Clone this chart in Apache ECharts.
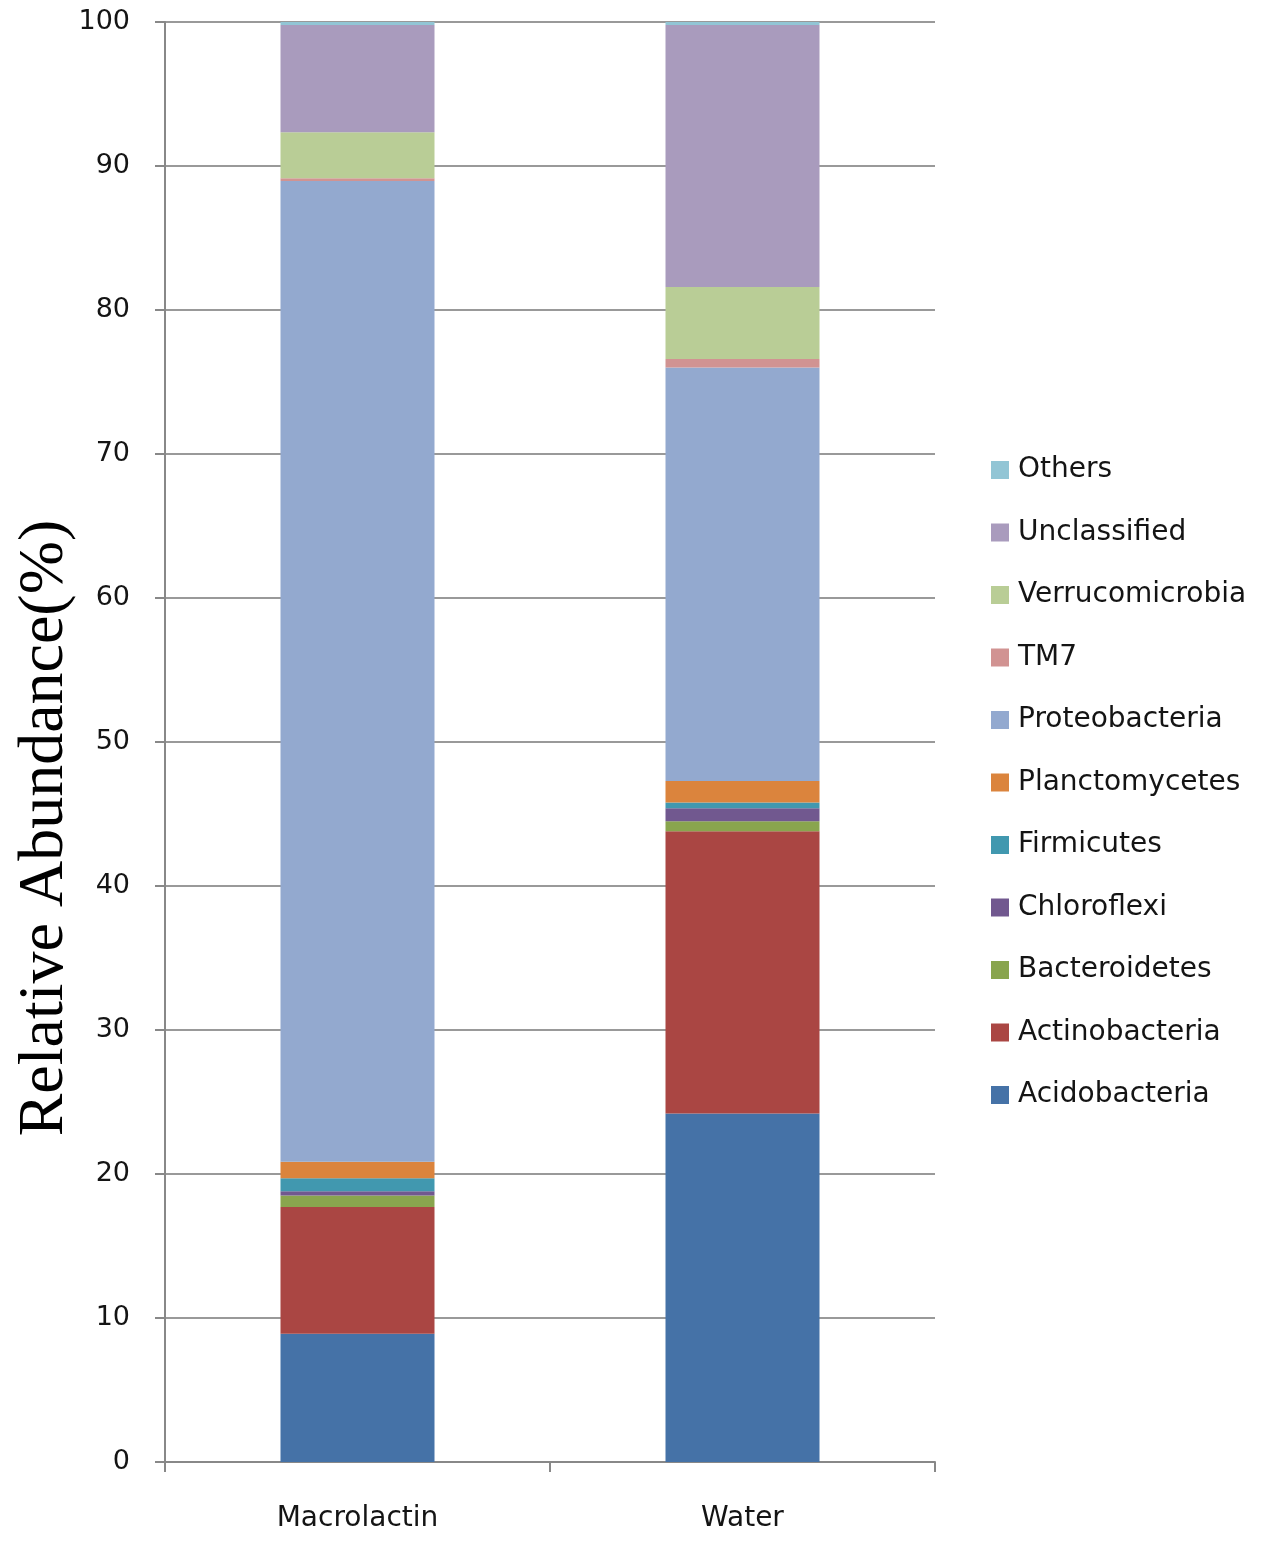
<!DOCTYPE html>
<html>
<head>
<meta charset="utf-8">
<script src="https://cdn.jsdelivr.net/npm/echarts@6/dist/echarts.min.js"></script>
<style>
  html, body { margin: 0; padding: 0; background: #fff; }
  #main { width: 1267px; height: 1542px; }
</style>
</head>
<body>
<div id="main"></div>
<script>
var samples = ['Macrolactin', 'Water'];
var taxa = ['Acidobacteria', 'Actinobacteria', 'Bacteroidetes', 'Chloroflexi', 'Firmicutes',
            'Planctomycetes', 'Proteobacteria', 'TM7', 'Verrucomicrobia', 'Unclassified', 'Others'];
var colors = ['#4572A7', '#AA4643', '#89A54E', '#71588F', '#4198AF',
              '#DB843D', '#93A9CF', '#D19392', '#B9CD96', '#A99BBD', '#92C5D5'];
// values per taxon: [Macrolactin, Water]
var abundance = [
    [8.9, 24.2],   // Acidobacteria
    [8.8, 19.6],   // Actinobacteria
    [0.8, 0.7],    // Bacteroidetes
    [0.3, 0.9],    // Chloroflexi
    [0.9, 0.4],    // Firmicutes
    [1.15, 1.5],   // Planctomycetes
    [68.1, 28.7],  // Proteobacteria
    [0.2, 0.6],    // TM7
    [3.2, 5.0],    // Verrucomicrobia
    [7.45, 18.2],  // Unclassified
    [0.2, 0.2]     // Others
];
var yTicks = [0, 10, 20, 30, 40, 50, 60, 70, 80, 90, 100];

var chart = echarts.init(document.getElementById('main'));

var series = [];
for (var i = 0; i < taxa.length; i++) {
    series.push({
        name: taxa[i],
        type: 'bar',
        stack: 'total',
        barWidth: '40%',
        itemStyle: { color: colors[i] },
        data: abundance[i]
    });
}

var legendData = taxa.slice().reverse();

var option = {
    animation: false,
    color: colors,
    grid: { left: 165, right: 332, top: 22, bottom: 80 },
    legend: {
        orient: 'vertical',
        left: 986,
        top: 451,
        data: legendData,
        icon: 'rect',
        itemWidth: 18,
        itemHeight: 18,
        itemGap: 34.5,
        textStyle: {
            fontFamily: 'DejaVu Sans',
            fontSize: 28,
            color: '#141414',
            padding: [0, 0, 0, 4]
        }
    },
    xAxis: {
        type: 'category',
        data: samples,
        axisLine: { lineStyle: { color: '#888', width: 2 } },
        axisTick: { show: true, length: 10, lineStyle: { color: '#888', width: 2 } },
        axisLabel: {
            margin: 43,
            fontFamily: 'DejaVu Sans',
            fontSize: 28,
            color: '#141414'
        }
    },
    yAxis: {
        type: 'value',
        min: 0,
        max: 100,
        interval: 10,
        axisLine: { show: true, lineStyle: { color: '#888', width: 2 } },
        axisTick: { show: true, length: 10, lineStyle: { color: '#888', width: 2 } },
        splitLine: { show: true, lineStyle: { color: '#999', width: 2 } },
        axisLabel: {
            margin: 35,
            fontFamily: 'DejaVu Sans',
            fontSize: 27,
            color: '#141414',
            formatter: function (v) {
                return yTicks.indexOf(v) >= 0 ? String(v) : '';
            }
        }
    },
    graphic: [{
        type: 'text',
        x: 45,
        y: 828,
        rotation: Math.PI / 2,
        style: {
            text: 'Relative Abundance(%)',
            font: '64px "Liberation Serif"',
            fill: '#000',
            textAlign: 'center',
            textVerticalAlign: 'middle'
        }
    }],
    series: series
};
chart.setOption(option);
</script>
</body>
</html>
